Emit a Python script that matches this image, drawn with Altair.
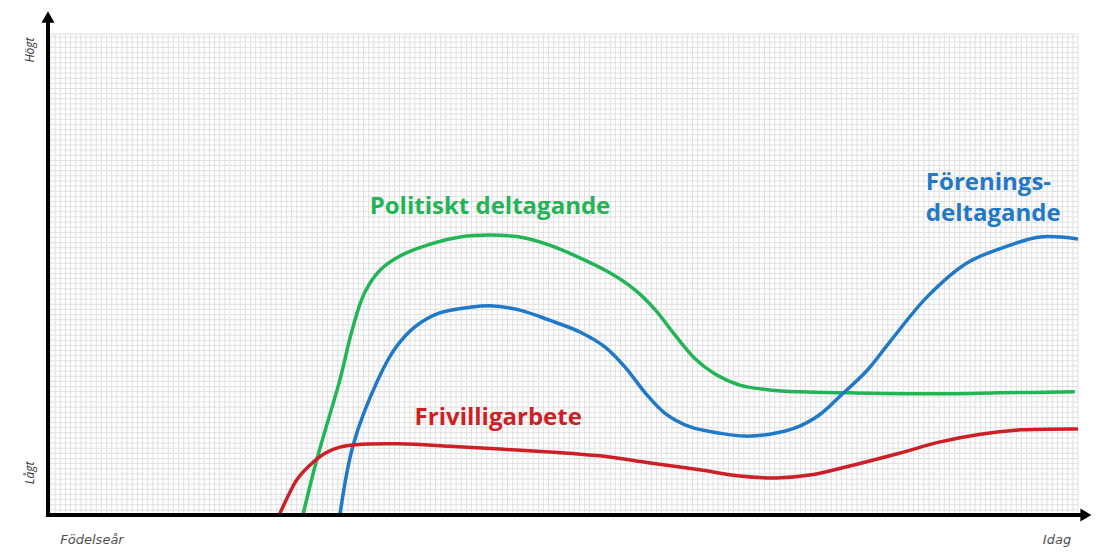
import altair as alt
import pandas as pd
import numpy as np

# ---- data (x: time 0..100, y: level 0..100) ----
series = ["Politiskt deltagande", "Föreningsdeltagande", "Frivilligarbete"]
colors = ["#22b455", "#1f78c8", "#cc1f26"]

green_x = [24.6, 26.0, 28.2, 29.4, 30.6, 32.1, 34.0, 37.0, 39.9, 42.8, 45.7, 48.6, 51.6, 54.5,
           56.9, 58.9, 60.8, 62.7, 64.7, 67.1, 70.0, 73.0, 77.8, 87.5, 92.4, 99.7]
green_y = [0.0, 11.9, 28.1, 38.5, 46.2, 50.9, 53.8, 56.3, 57.8, 58.2, 57.8, 56.1, 53.4, 50.3,
           46.8, 42.6, 37.4, 32.6, 29.3, 27.0, 26.0, 25.6, 25.4, 25.2, 25.4, 25.6]

blue_x = [28.2, 29.5, 31.9, 33.6, 35.5, 37.9, 40.9, 42.8, 45.7, 48.6, 51.6, 54.0, 56.0, 57.9,
          59.8, 62.3, 65.2, 67.6, 70.0, 72.5, 74.9, 77.1, 79.5, 81.7, 85.3, 89.2, 93.4, 96.3, 100.0]
blue_y = [0.0, 14.6, 28.1, 34.7, 39.1, 42.0, 43.2, 43.5, 42.6, 40.5, 38.0, 34.9, 30.6, 25.4,
          21.2, 18.3, 17.0, 16.4, 16.8, 18.1, 20.9, 25.2, 30.1, 36.0, 45.3, 52.4, 56.1, 57.8, 57.4]

red_x = [22.3, 23.1, 24.0, 25.3, 26.8, 28.2, 29.7, 34.0, 38.9, 43.8, 48.6, 53.5, 58.4, 63.2,
         67.1, 70.7, 73.9, 77.8, 82.7, 86.6, 90.5, 94.4, 100.0]
red_y = [0.0, 3.7, 7.3, 10.4, 12.9, 14.1, 14.6, 14.8, 14.3, 13.7, 13.1, 12.3, 10.8, 9.4,
         8.1, 7.7, 8.3, 10.2, 12.9, 15.2, 16.8, 17.7, 17.9]

xs = [green_x, blue_x, red_x]
ys = [green_y, blue_y, red_y]

rows = []
for name, sx, sy in zip(series, xs, ys):
    for i, (a, b) in enumerate(zip(sx, sy)):
        rows.append({"serie": name, "t": a, "niva": b, "ord": i})
df = pd.DataFrame(rows)

# grid (square cells)
x_grid = pd.DataFrame({"g": np.round(np.arange(0, 100.001, 0.5), 3)})
y_grid = pd.DataFrame({"g": list(np.round(np.arange(0, 100.001, 100 / 93.6), 3)) + [100.0]})

W, H = 1028, 481
xscale = alt.Scale(domain=[0, 100], nice=False, zero=False)
yscale = alt.Scale(domain=[0, 100], nice=False, zero=False)

grid_color = "#e0e0e0"

vgrid = alt.Chart(x_grid).mark_rule(color=grid_color, strokeWidth=1).encode(
    x=alt.X("g:Q", scale=xscale, axis=None), y=alt.value(0), y2=alt.value(H))
hgrid = alt.Chart(y_grid).mark_rule(color=grid_color, strokeWidth=1).encode(
    y=alt.Y("g:Q", scale=yscale, axis=None), x=alt.value(0), x2=alt.value(W))

lines = alt.Chart(df).mark_line(interpolate="catmull-rom", strokeWidth=3.5).encode(
    x=alt.X("t:Q", scale=xscale, axis=None),
    y=alt.Y("niva:Q", scale=yscale, axis=None),
    color=alt.Color("serie:N", scale=alt.Scale(domain=series, range=colors), legend=None),
    detail="serie:N",
    order="ord:Q",
)

font = "Open Sans"

def label(text, x, y, color, align="center", size=24):
    return alt.Chart(pd.DataFrame({"a": [0]})).mark_text(
        text=text, font=font, fontWeight="bold", fontSize=size, color=color,
        align=align, baseline="middle"
    ).encode(x=alt.datum(x, scale=xscale), y=alt.datum(y, scale=yscale))

lab_green = label("Politiskt deltagande", 42.8, 64.0, colors[0])
lab_blue1 = label("Förenings-", 85.2, 69.0, colors[1], align="left")
lab_blue2 = label("deltagande", 85.2, 62.6, colors[1], align="left")
lab_red = label("Frivilligarbete", 43.6, 20.2, colors[2])

one = pd.DataFrame({"a": [0]})

# axes with arrows
y_axis = alt.Chart(one).mark_rule(color="black", strokeWidth=4).encode(
    x=alt.value(-2), y=alt.value(H + 2), y2=alt.value(-12))
x_axis = alt.Chart(one).mark_rule(color="black", strokeWidth=4).encode(
    x=alt.value(-4), x2=alt.value(1032), y=alt.value(H))
y_head = alt.Chart(one).mark_point(shape="triangle-up", filled=True, color="black",
                                   size=170, opacity=1).encode(
    x=alt.value(-2), y=alt.value(-17))
x_head = alt.Chart(one).mark_point(shape="triangle-right", filled=True, color="black",
                                   size=170, opacity=1).encode(
    x=alt.value(1036), y=alt.value(H))

def small(text, x, y, angle=0, f="Open Sans", size=12, color="#333333"):
    return alt.Chart(one).mark_text(
        text=text, font=f, fontStyle="italic", fontSize=size, color=color,
        align="center", baseline="middle", angle=angle
    ).encode(x=alt.value(x), y=alt.value(y))

t_hogt = small("Högt", -20, 16, angle=270)
t_lagt = small("Lågt", -20, 439, angle=270)
t_fod = small("Födelseår", 42, 506, f="DejaVu Sans", size=13, color="#505050")
t_idag = small("Idag", 1007, 506, f="DejaVu Sans", size=13, color="#505050")

chart = alt.layer(
    vgrid, hgrid, lines, lab_green, lab_blue1, lab_blue2, lab_red,
    y_axis, x_axis, y_head, x_head, t_hogt, t_lagt, t_fod, t_idag
).properties(
    width=W, height=H,
    autosize=alt.AutoSizeParams(type="none"),
    padding={"left": 42, "top": 26, "right": 13, "bottom": 33},
    background="white",
).configure_view(strokeWidth=0)

chart.save("out.html", embed_options={"renderer": "svg", "actions": False})
